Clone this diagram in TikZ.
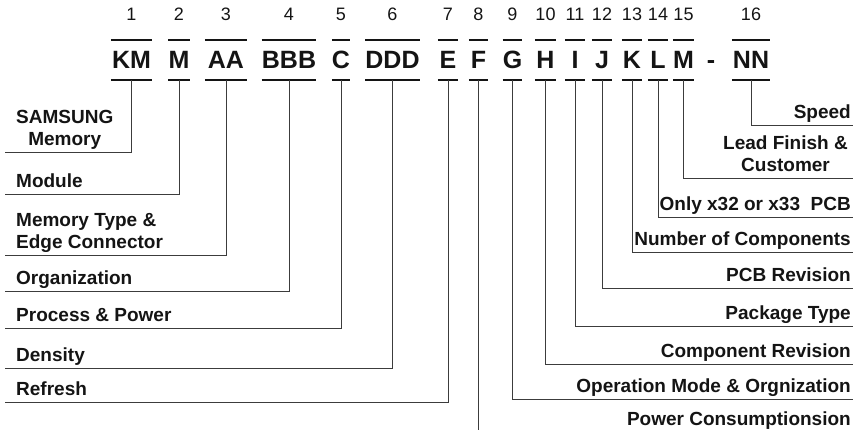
\documentclass[tikz,border=0pt]{standalone}
\usepackage{fontspec}
\setmainfont{Liberation Sans}
\usepackage{xcolor}
\definecolor{ink}{RGB}{20,20,20}
\definecolor{rule}{RGB}{60,60,60}
\usepackage{tikz}
\usetikzlibrary{positioning}
\tikzset{
  code/.style={inner sep=0pt, minimum height=40pt, text depth=0pt,
               font=\fontsize{25}{25}\selectfont\bfseries, text=ink},
  digit/.style={inner sep=0pt, text depth=0pt,
                font=\fontsize{18}{18}\selectfont, text=ink},
  lbl/.style={inner ysep=6pt, text depth=0pt, align=center,
              font=\fontsize{19}{22}\selectfont\bfseries, text=ink},
  lbll/.style={lbl, anchor=south west, inner xsep=11pt},
  lblr/.style={lbl, anchor=south east, inner xsep=2pt},
  bar/.style={draw=ink, line width=1.6pt},
  link/.style={draw=rule, line width=0.8pt},
}

\begin{document}
\begin{tikzpicture}[x=1pt,y=-1pt]
\path[use as bounding box] (0,0) rectangle (855,429);
\clip (0,0) rectangle (855,429);

\foreach \i/\x/\w/\t in {1/131.5/41/KM, 2/179/20/M, 3/226/42/AA, 4/289/52/BBB,
    5/341/18/C, 6/392.5/51/DDD, 7/448/20/E, 8/478.5/19/F, 9/512.5/19/G,
    10/545.5/21/H, 11/575/20/I, 12/602/20/J, 13/632/20/K, 14/658/20/L,
    15/683.5/21/M, 16/751/38/NN}{
  \node[code, minimum width=\w pt] (c\i) at (\x,60) {\t};
  \node[digit, above=19pt of c\i] (n\i) {\i};
  \draw[bar] (c\i.north west) -- (c\i.north east) (c\i.south west) -- (c\i.south east);
}
\node[code, minimum height=0pt] (dash) at (711,65) {-};

\node[lbll] (l1) at (5,152) {SAMSUNG\\Memory};
\node[lbll] (l2) at (5,194) {Module};
\node[lbll, align=left] (l3) at (5,255) {Memory Type \&\\Edge Connector};
\node[lbll] (l4) at (5,291) {Organization};
\node[lbll] (l5) at (5,328) {Process \& Power};
\node[lbll] (l6) at (5,368) {Density};
\node[lbll] (l7) at (5,402) {Refresh};

\node[lblr] (l16) at (853,125) {Speed};
\node[lblr, inner xsep=5pt] (l15) at (853,178) {Lead Finish \&\\Customer};
\node[lblr] (l14) at (853,217) {Only x32 or x33\ \ PCB};
\node[lblr] (l13) at (853,252) {Number of Components};
\node[lblr] (l12) at (853,288) {PCB Revision};
\node[lblr] (l11) at (853,326) {Package Type};
\node[lblr] (l10) at (853,364) {Component Revision};
\node[lblr] (l9) at (853,399) {Operation Mode \& Orgnization};
\node[lblr] (l8) at (853,432) {Power Consumptionsion};

\foreach \i in {1,...,7}
  \draw[link] (c\i.south) |- (l\i.south west);
\foreach \i in {8,...,16}
  \draw[link] (c\i.south) |- (l\i.south east);
\end{tikzpicture}
\end{document}
